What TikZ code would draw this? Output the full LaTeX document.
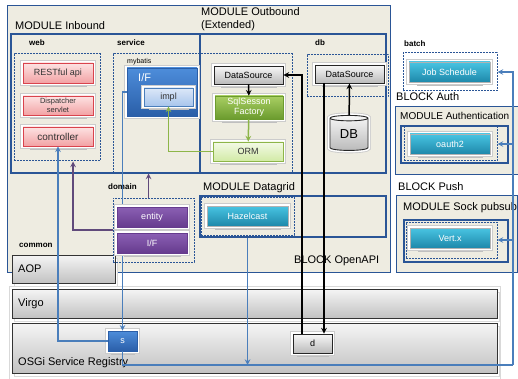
\documentclass[tikz,border=0pt]{standalone}
\usepackage{fontspec}
\setmainfont{Liberation Sans}
\usetikzlibrary{shapes.geometric,shadows}

\definecolor{beige}{HTML}{EEECE1}
\definecolor{modblue}{HTML}{2A5596}
\definecolor{lnblue}{HTML}{4A7EBB}
\definecolor{lnpurple}{HTML}{604A7B}
\definecolor{lngreen}{HTML}{8DB548}
\definecolor{pinkA}{HTML}{FDE3E3}
\definecolor{pinkB}{HTML}{F2A2A4}
\definecolor{pinkE}{HTML}{D9434D}
\definecolor{bluA}{HTML}{4D8DDA}
\definecolor{bluB}{HTML}{2A5EA8}
\definecolor{lbluA}{HTML}{DCE8F8}
\definecolor{lbluB}{HTML}{A8C5EC}
\definecolor{grnA}{HTML}{A9CF63}
\definecolor{grnB}{HTML}{6B9B2E}
\definecolor{limA}{HTML}{F3FAE6}
\definecolor{limB}{HTML}{D2EAA6}
\definecolor{cyA}{HTML}{48C4E2}
\definecolor{cyB}{HTML}{1E88AA}
\definecolor{purA}{HTML}{8B60B4}
\definecolor{purB}{HTML}{663B8E}

\begin{document}
\begin{tikzpicture}
  [x=1pt,y=-1pt,>=stealth,
   every node/.style={inner sep=0pt,font=\fontsize{9}{10}\selectfont},
   sz/.style 2 args={minimum width=#1,minimum height=#2},
   lbl/.style={anchor=west,font=\fontsize{11}{13}\selectfont},
   tag/.style={anchor=west,font=\bfseries\fontsize{8}{9}\selectfont},
   block/.style={draw=modblue,fill=beige,line width=0.8pt},
   module/.style={draw=modblue,line width=1.3pt},
   group/.style={draw=modblue,line width=1pt,dash pattern=on 2pt off 1pt},
   card/.style={general shadow={fill=white,draw=black!25,shadow scale=0.8,shadow yshift=-7pt},
                preaction={draw=black!20,double=white,double distance=4pt}},
   bar/.style={draw=black!80,line width=0.9pt,top color=black!4,bottom color=black!24,
               general shadow={fill=white,draw=black!15,shadow xshift=2pt,shadow yshift=-3pt}},
   pinkbox/.style={card,draw=pinkE,line width=0.8pt,top color=pinkA,bottom color=pinkB,text=black!80},
   bluebox/.style={card,draw=bluB,line width=0.6pt,top color=bluA,bottom color=bluB,text=white},
   lightbox/.style={card,draw=lnblue,line width=0.8pt,top color=lbluA,bottom color=lbluB,text=black!80},
   graybox/.style={card,draw=black!85,line width=0.9pt,top color=black!3,bottom color=black!27},
   greenbox/.style={card,draw=grnB,line width=0.6pt,top color=grnA,bottom color=grnB,text=white},
   limebox/.style={card,draw=lngreen,line width=0.9pt,top color=limA,bottom color=limB,text=black!80},
   cyanbox/.style={card,draw=black!30,line width=0.6pt,top color=cyA,bottom color=cyB,text=white},
   purplebox/.style={card,draw=purB,line width=0.6pt,top color=purA,bottom color=purB,text=white},
   link/.style={->,line width=1.5pt}]
  \useasboundingbox (0,0) rectangle (518,379);

  \node[block,sz={383}{267}] (openapi) at (198.5,138.5) {};
  \node[block,sz={124}{68}] (authb) at (457,140) {};
  \node[block,sz={121}{77}] (pushb) at (456.5,233.5) {};
  \draw[black!15] (9,286) rectangle (500,379);

  \node[bar,sz={103}{28}] (aop) at (63.5,269) {};
  \node[bar,sz={485}{29}] (virgo) at (254.5,303.5) {};
  \node[bar,sz={485}{50}] (osgi) at (254.5,348) {};

  \node[module,sz={189}{139}] (inbound) at (105.5,103.5) {};
  \node[module,sz={186}{139}] (outbound) at (293,103.5) {};
  \node[module,sz={186}{41}] (grid) at (293,216.5) {};
  \node[module,sz={107}{37}] (authm) at (454.5,144.5) {};
  \node[module,sz={104}{42}] (pushm) at (456,241) {};

  \node[group,sz={86}{107}] (web) at (57,107.5) {};
  \node[group,sz={179}{119}] (service) at (202.5,113.5) {};
  \node[group,sz={81}{42}] (db) at (347.5,76) {};
  \node[group,sz={81}{64}] (domain) at (153.5,230) {};
  \node[group,sz={93}{38}] (gridg) at (247.5,216) {};
  \node[group,sz={94}{38}] (batch) at (450,72) {};
  \node[group,sz={93}{34}] (authg) at (450.5,144) {};
  \node[group,sz={91}{36}] (pushg) at (451.5,240) {};

  \node[lbl] (openapil) at (294,261) {BLOCK OpenAPI};
  \node[lbl] (inboundl) at (15,26) {MODULE Inbound};
  \node[lbl,align=left] (outboundl) at (201,19.5) {MODULE Outbound\\(Extended)};
  \node[lbl] (gridl) at (203,188) {MODULE Datagrid};
  \node[lbl] (authbl) at (396,97) {BLOCK Auth};
  \node[lbl,font=\fontsize{10}{12}\selectfont] (authml) at (400,116) {MODULE Authentication};
  \node[lbl] (pushbl) at (398,187) {BLOCK Push};
  \node[lbl] (pushml) at (403,208) {MODULE Sock pubsub};
  \node[lbl] (aopl) at (18,269) {AOP};
  \node[lbl] (virgol) at (18,304) {Virgo};
  \node[lbl] (osgil) at (18,363) {OSGi Service Registry};

  \node[tag] (webl) at (29,43) {web};
  \node[tag] (servicel) at (117,43) {service};
  \node[tag] (dbl) at (315,43) {db};
  \node[tag] (domainl) at (108,187) {domain};
  \node[tag] (commonl) at (19,245) {common};
  \node[tag] (batchl) at (404,44) {batch};
  \node[anchor=west,font=\fontsize{7}{8}\selectfont] (mybatisl) at (127,62) {mybatis};

  \node[pinkbox,sz={70}{20}] (rest) at (58,73) {RESTful api};
  \node[pinkbox,sz={70}{19},align=center,font=\fontsize{7.5}{9}\selectfont] (disp) at (58,105.5) {Dispatcher\\servlet};
  \node[pinkbox,sz={70}{19},font=\fontsize{10}{11}\selectfont] (ctrl) at (58,136.5) {controller};
  \node[bluebox,sz={70}{48}] (mif) at (162,92) {};
  \node[anchor=west,text=white,font=\fontsize{11}{12}\selectfont] (mifl) at (138,78) {I/F};
  \node[lightbox,sz={49}{18}] (impl) at (168.5,97) {impl};
  \node[graybox,sz={69}{18}] (ds1) at (248.5,75) {DataSource};
  \node[greenbox,sz={68}{23},align=center] (sql) at (249,107.5) {SqlSesson\\Factory};
  \node[limebox,sz={70}{19}] (orm) at (248,151.5) {ORM};
  \node[graybox,sz={69}{18}] (ds2) at (349.5,74) {DataSource};
  \node[graybox,cylinder,shape border rotate=90,aspect=0.3,sz={38}{35},font=\fontsize{13}{14}\selectfont] (dbs) at (349,134.5) {DB};
  \node[cyanbox,sz={81}{20}] (hazel) at (247.5,216) {Hazelcast};
  \node[cyanbox,sz={81}{20}] (job) at (449.5,72) {Job Schedule};
  \node[cyanbox,sz={80}{20}] (oauth) at (450,144) {oauth2};
  \node[cyanbox,sz={80}{20}] (vertx) at (450,238) {Vert.x};
  \node[bluebox,sz={29}{20}] (s) at (122.5,341) {s};
  \node[graybox,sz={39}{19}] (d) at (312.5,343.5) {d};

  \draw[link,lnblue] (mif.west) -| (s.north);

  \node[purplebox,sz={70}{20}] (entity) at (152,217) {entity};
  \node[purplebox,sz={70}{20}] (dif) at (152,243) {I/F};

  \draw[link] (ds1) -- (sql);
  \draw[link,lngreen] (sql) -- (orm);
  \draw[link,lngreen] (orm.west) -| (impl.south);
  \draw[link] (dbs) -- (ds2);
  \draw[link] ([xshift=-25.5pt]ds2.south) -- ([xshift=11.5pt]d.north);
  \draw[link] ([xshift=-10.5pt]d.north) |- (ds1.east);
  \draw[link,lnblue] (s.west) -| (ctrl.south);
  \draw[link,lnpurple] (domain.west) -| ([xshift=16pt]web.south);
  \draw[link,lnpurple] ([xshift=-5pt]domain.north) -- ([xshift=-5pt]domain.north |- service.south);

  \coordinate (busl) at (122.5,365);
  \coordinate (busr) at (513,365);
  \draw[lnblue,line width=1.5pt] (s.south) -- (busl) -- (busr);
  \draw[link,lnblue] (busr) |- (batch.east);
  \foreach \g in {authg,pushg}
    \draw[link,lnblue] (busr |- \g.east) -- (\g.east);
  \draw[link,lnblue] (hazel.south |- grid.south) -- (hazel.south |- busl);
\end{tikzpicture}
\end{document}
